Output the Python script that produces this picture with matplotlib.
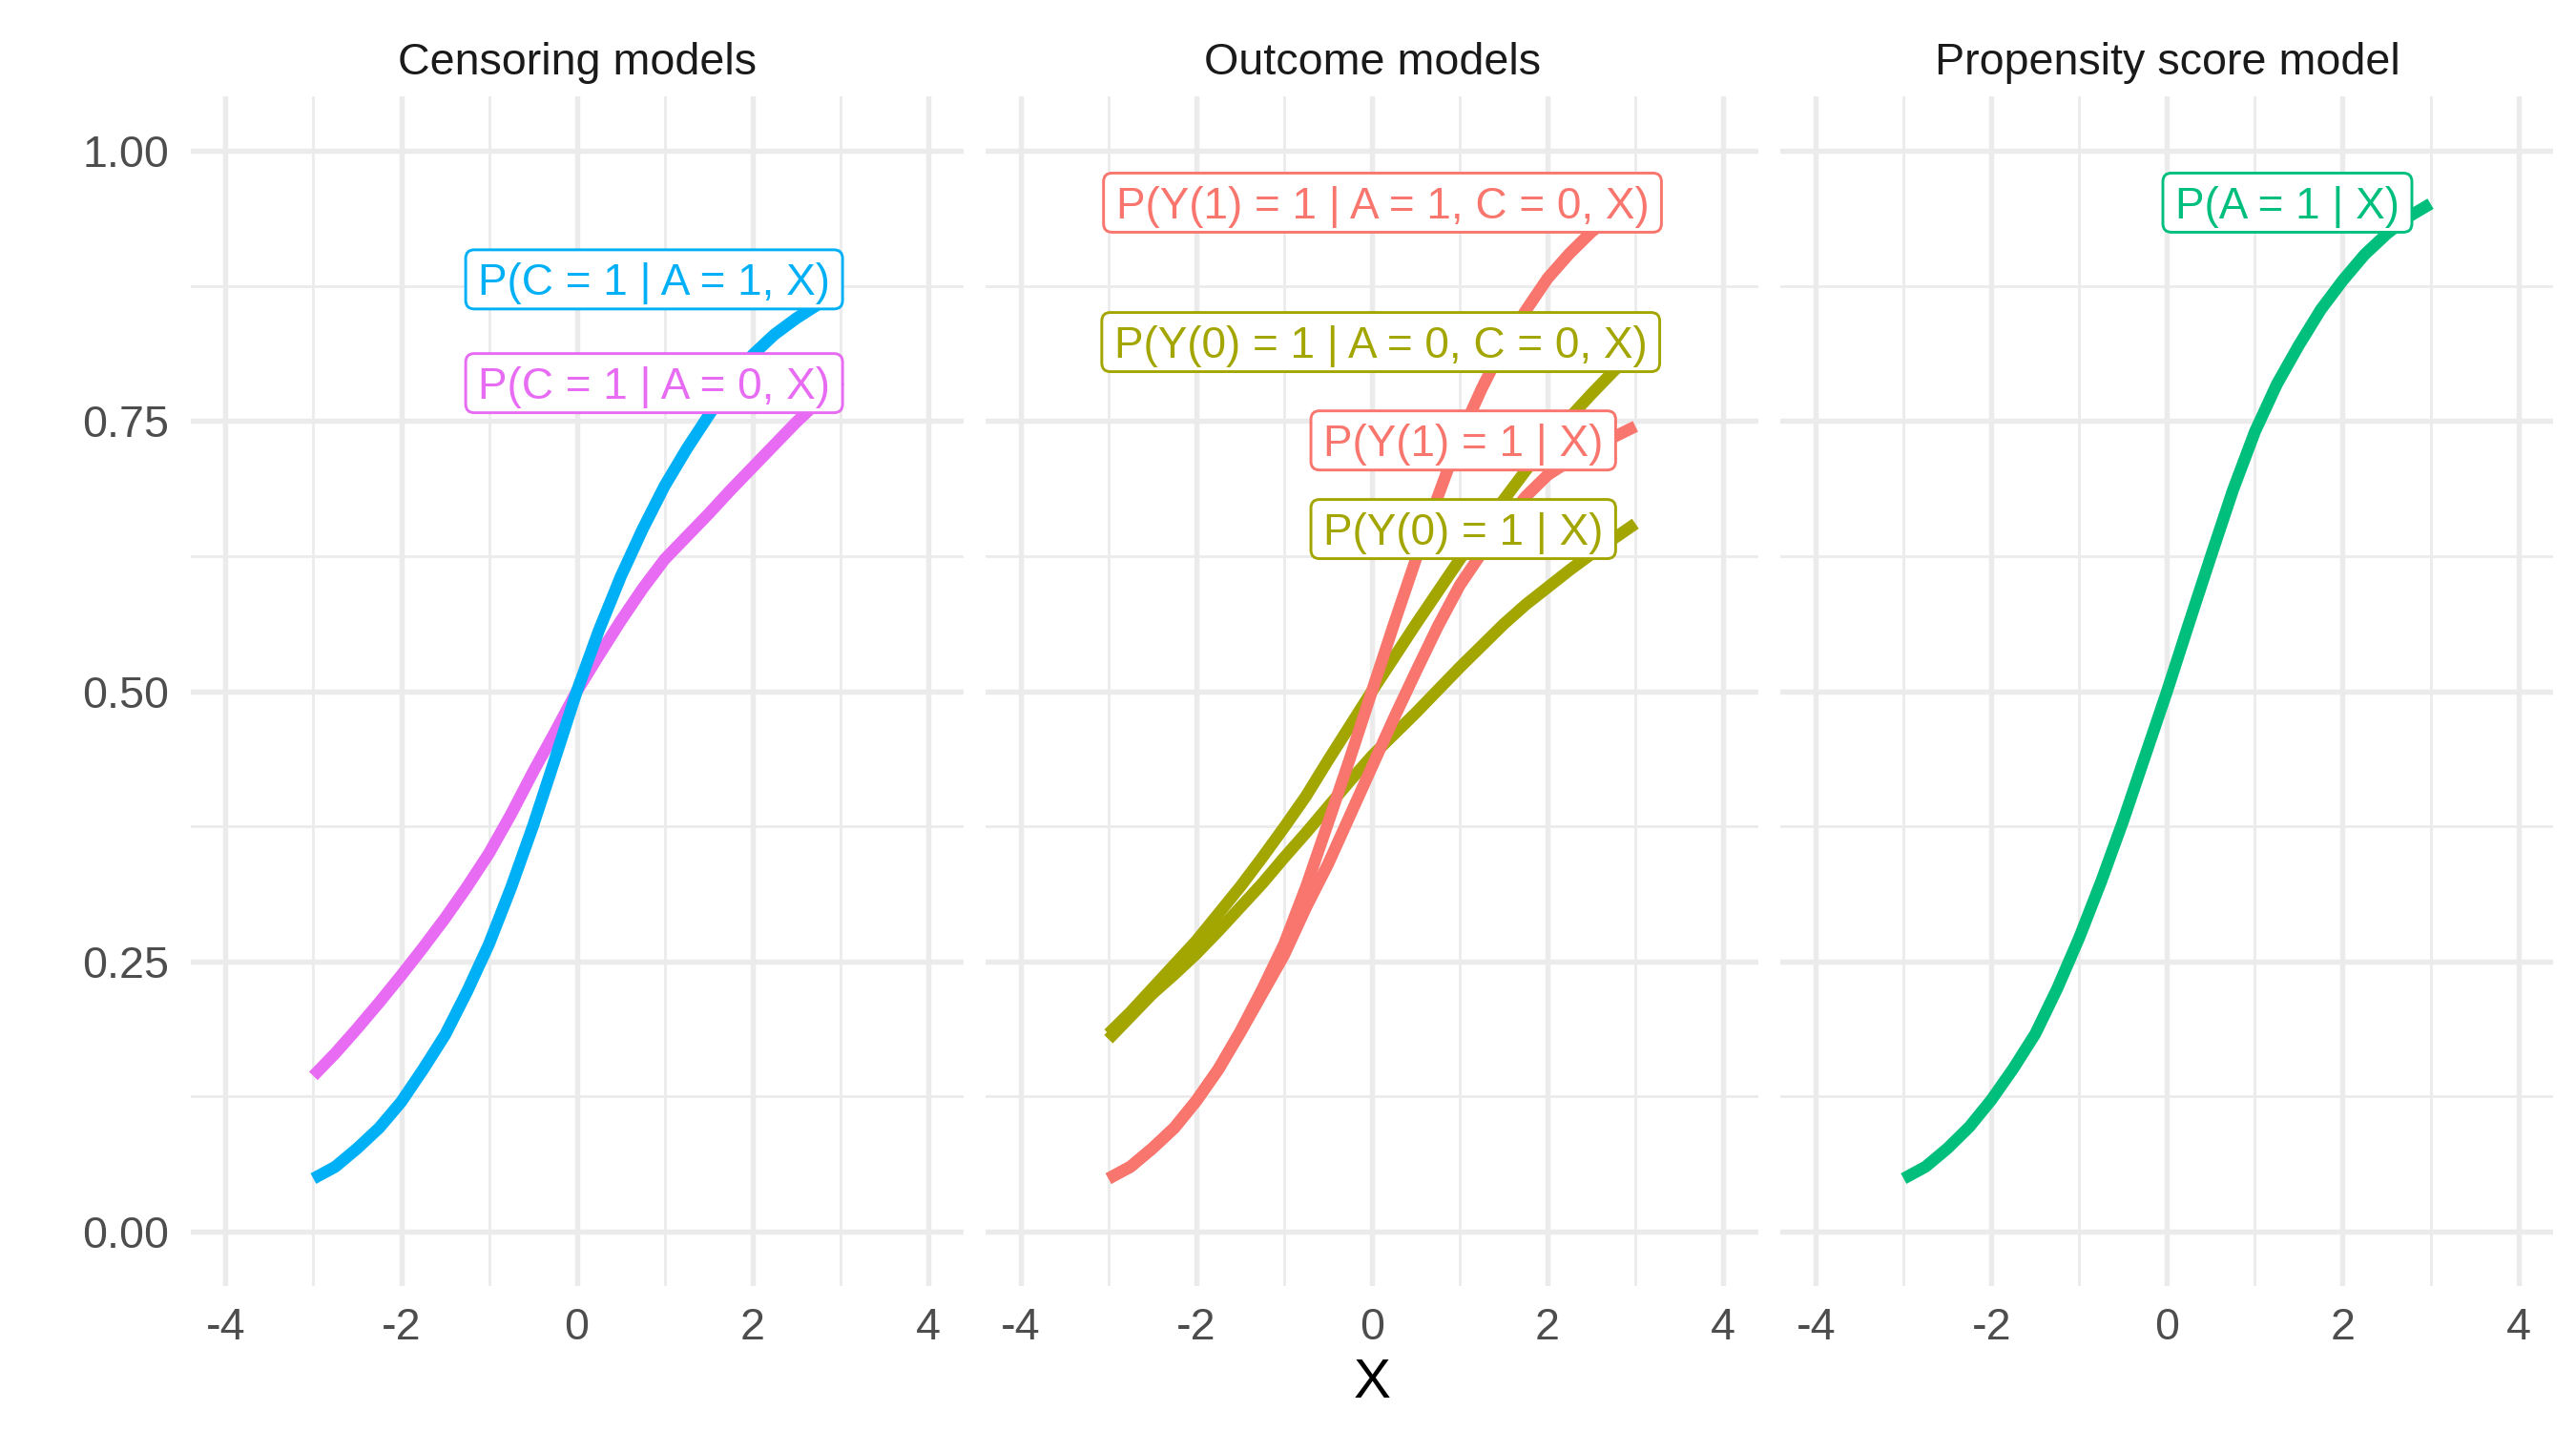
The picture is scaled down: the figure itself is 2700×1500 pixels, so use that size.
import matplotlib
matplotlib.use("Agg")
import matplotlib.pyplot as plt
from matplotlib.patches import FancyBboxPatch
from matplotlib.transforms import IdentityTransform, offset_copy

plt.rcParams['font.family'] = ['Liberation Sans', 'DejaVu Sans']
plt.rcParams['axes.unicode_minus'] = False

# ---------------- data ----------------
x_vals = [-3, -2.75, -2.5, -2.25, -2, -1.75, -1.5, -1.25, -1, -0.75, -0.5, -0.25,
          0, 0.25, 0.5, 0.75, 1, 1.25, 1.5, 1.75, 2, 2.25, 2.5, 2.75, 3]

p_c_a1 = [0.049, 0.060, 0.077, 0.096, 0.120, 0.150, 0.182, 0.222, 0.266, 0.318, 0.375, 0.437,
          0.500, 0.556, 0.606, 0.650, 0.690, 0.724, 0.755, 0.785, 0.811, 0.830, 0.845, 0.858, 0.870]
p_c_a0 = [0.144, 0.165, 0.188, 0.212, 0.237, 0.263, 0.290, 0.319, 0.350, 0.386, 0.425, 0.462,
          0.500, 0.533, 0.565, 0.595, 0.622, 0.643, 0.664, 0.686, 0.707, 0.728, 0.749, 0.768, 0.788]

p_y1_a1c0 = [0.049, 0.060, 0.077, 0.096, 0.121, 0.150, 0.185, 0.224, 0.266, 0.319, 0.378, 0.438,
             0.500, 0.562, 0.622, 0.680, 0.735, 0.780, 0.820, 0.852, 0.882, 0.905, 0.925, 0.940, 0.953]
p_y1_x = [0.049, 0.060, 0.077, 0.096, 0.121, 0.150, 0.184, 0.220, 0.256, 0.300, 0.340, 0.385,
          0.430, 0.475, 0.518, 0.560, 0.598, 0.628, 0.655, 0.680, 0.700, 0.713, 0.725, 0.735, 0.745]
p_y0_a0c0 = [0.183, 0.203, 0.225, 0.247, 0.269, 0.294, 0.319, 0.346, 0.374, 0.403, 0.436, 0.468,
             0.500, 0.531, 0.562, 0.592, 0.622, 0.650, 0.677, 0.704, 0.730, 0.753, 0.775, 0.796, 0.815]
p_y0_x = [0.178, 0.199, 0.220, 0.238, 0.257, 0.278, 0.300, 0.322, 0.346, 0.369, 0.393, 0.417,
          0.440, 0.460, 0.480, 0.501, 0.522, 0.542, 0.562, 0.580, 0.596, 0.612, 0.627, 0.641, 0.655]

p_a_x = [0.049, 0.060, 0.077, 0.097, 0.122, 0.151, 0.183, 0.225, 0.272, 0.324, 0.380, 0.440,
         0.500, 0.563, 0.625, 0.686, 0.740, 0.784, 0.820, 0.853, 0.880, 0.904, 0.923, 0.939, 0.951]

panel_titles = ["Censoring models", "Outcome models", "Propensity score model"]
x_ticks = [-4, -2, 0, 2, 4]
y_ticks = [0.0, 0.25, 0.5, 0.75, 1.0]
y_tick_labels = ["0.00", "0.25", "0.50", "0.75", "1.00"]
x_title = "X"

RED, OLIVE, GREEN, BLUE, MAGENTA = "#F8766D", "#A3A500", "#00BF7D", "#00B0F6", "#E76BF3"

# (label text, values, colour, label centre x, label centre y)
panels = [
    [("P(C = 1 | A = 0, X)", p_c_a0, MAGENTA, 0.88, 0.785),
     ("P(C = 1 | A = 1, X)", p_c_a1, BLUE, 0.88, 0.881)],
    [("P(Y(0) = 1 | A = 0, C = 0, X)", p_y0_a0c0, OLIVE, 0.10, 0.823),
     ("P(Y(0) = 1 | X)", p_y0_x, OLIVE, 1.04, 0.650),
     ("P(Y(1) = 1 | A = 1, C = 0, X)", p_y1_a1c0, RED, 0.12, 0.952),
     ("P(Y(1) = 1 | X)", p_y1_x, RED, 1.04, 0.732)],
    [("P(A = 1 | X)", p_a_x, GREEN, 1.37, 0.952)],
]

# ---------------- figure ----------------
DPI = 300
W, H = 2700, 1500
fig = plt.figure(figsize=(W / DPI, H / DPI), dpi=DPI)

panel_lefts = [199.6, 1033.0, 1866.4]
panel_w = 810.0
panel_top, panel_bot = 101.4, 1347.6

GRID = "#EBEBEB"
axes = []
for i, left in enumerate(panel_lefts):
    ax = fig.add_axes([left / W, 1 - panel_bot / H, panel_w / W, (panel_bot - panel_top) / H])
    axes.append(ax)
    ax.set_xlim(-4.4, 4.4)
    ax.set_ylim(-0.05, 1.05)
    ax.set_xticks(x_ticks)
    ax.set_xticklabels([str(v) for v in x_ticks])
    ax.set_xticks([-3, -1, 1, 3], minor=True)
    ax.set_yticks(y_ticks)
    ax.set_yticklabels(y_tick_labels)
    ax.set_yticks([0.125, 0.375, 0.625, 0.875], minor=True)
    ax.grid(which='major', color=GRID, lw=1.3)
    ax.grid(which='minor', color=GRID, lw=0.65)
    ax.set_axisbelow(True)
    for s in ax.spines.values():
        s.set_visible(False)
    ax.tick_params(which='both', length=0, labelsize=11.2, labelcolor='#4D4D4D', pad=5.3)
    if i > 0:
        ax.tick_params(labelleft=False)
    ax.set_title(panel_titles[i], fontsize=11.2, color='#1A1A1A', pad=5.5)

    for (lab, vals, col, lx, ly) in panels[i]:
        ax.plot(x_vals, vals, color=col, lw=3.0, solid_capstyle='butt',
                solid_joinstyle='round', zorder=3)

fig.text(1438 / W, 1 - 1465 / H, x_title, fontsize=14, color='black',
         ha='center', va='baseline')

# ---------------- labels (geom_label style) ----------------
renderer = fig.canvas.get_renderer()
fs = 11.0
cap = 0.716 * fs / 72 * DPI
pad_x, box_h = 13.0, 62.0
for i, ax in enumerate(axes):
    for (lab, vals, col, lx, ly) in panels[i]:
        t = ax.text(lx, ly, lab, color=col, fontsize=fs, ha='center', va='baseline',
                    transform=offset_copy(ax.transData, fig=fig, y=-cap / 2, units='dots'),
                    zorder=7)
        w = t.get_window_extent(renderer).width
        px, py = ax.transData.transform((lx, ly))
        bw = w + 2 * pad_x
        box = FancyBboxPatch((px - bw / 2, py - box_h / 2), bw, box_h,
                             boxstyle="round,pad=0,rounding_size=9",
                             fc='white', ec=col, lw=0.7,
                             transform=IdentityTransform(), zorder=6, clip_on=False)
        ax.add_patch(box)

fig.savefig("out.png", dpi=DPI, facecolor='white')
